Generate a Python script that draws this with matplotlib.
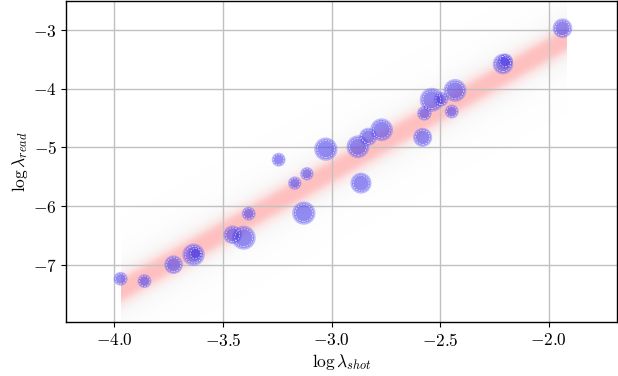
import numpy as np
import matplotlib
matplotlib.use('Agg')
import matplotlib.pyplot as plt

plt.rcParams['font.family'] = 'serif'
plt.rcParams['font.serif'] = ['cmr10']
plt.rcParams['mathtext.fontset'] = 'cm'
plt.rcParams['axes.formatter.use_mathtext'] = True
plt.rcParams['font.size'] = 12.5

# observed points (log shot noise, log read noise) and marker areas
log_shot = [-3.972, -3.862, -3.728, -3.636, -3.627, -3.456, -3.405, -3.382,
            -3.128, -3.170, -3.114, -3.244, -3.027, -2.879, -2.832, -2.770,
            -2.865, -2.581, -2.573, -2.539, -2.496, -2.432, -2.447, -2.211,
            -2.200, -1.937]
log_read = [-7.24, -7.28, -7.00, -6.83, -6.81, -6.49, -6.54, -6.13,
            -6.12, -5.61, -5.45, -5.21, -5.03, -4.99, -4.82, -4.70,
            -5.61, -4.83, -4.42, -4.19, -4.18, -4.03, -4.39, -3.58,
            -3.53, -2.97]
sizes = [100, 100, 180, 260, 100, 180, 300, 100,
         282, 93, 93, 100, 282, 270, 170, 270,
         230, 190, 110, 300, 110, 270, 100, 220,
         120, 200]

# fitted line and band
fit_x = [-3.97, -1.92]
slope = 2.08
intercept = -5.42 + 3 * 2.08
core_w = 0.30
fade_w = 0.55

fig = plt.figure(figsize=(6.18, 3.76), dpi=100)
ax = fig.add_axes([0.1076, 0.1423, 0.8908, 0.855])

# gradient band as an image
ylo, yhi = -8.2, -2.4
xs = np.linspace(fit_x[0], fit_x[1], 300)
ys = np.linspace(ylo, yhi, 500)
X, Y = np.meshgrid(xs, ys)
d = np.abs(Y - (slope * X + intercept))
r = np.exp(-(d / core_w) ** 3)
a = np.exp(-(d / fade_w) ** 2)
red = np.array([1.0, 0.75, 0.75])
grey = np.array([0.95, 0.95, 0.95])
img = np.zeros(X.shape + (4,))
for k in range(3):
    img[..., k] = r * red[k] + (1 - r) * grey[k]
img[..., 3] = np.clip(np.maximum(a * 0.75, r), 0, 1)
ax.imshow(img, extent=[fit_x[0], fit_x[1], ylo, yhi], origin='lower',
          aspect='auto', interpolation='bilinear', zorder=0)

sz = np.array(sizes)
ax.scatter(log_shot, log_read, s=sz, facecolor=(0.4, 0.4, 1.0, 0.42),
           edgecolor='none', zorder=2)
ax.scatter(log_shot, log_read, s=sz * 0.72, facecolor=(0.2, 0.1, 0.85, 0.3),
           edgecolor='none', zorder=3)
ax.scatter(log_shot, log_read, s=sz * 0.55, facecolor='none',
           edgecolor=(1, 1, 1, 0.7), linewidth=0.6, linestyle=(0, (2, 1.5)),
           zorder=4)

ax.set_xlim(-4.221, -1.686)
ax.set_ylim(-7.985, -2.506)
ax.set_xticks([-4.0, -3.5, -3.0, -2.5, -2.0])
ax.set_yticks([-7, -6, -5, -4, -3])
ax.set_axisbelow(True)
ax.grid(True, color='#c0c0c0', linewidth=1.0)
ax.set_xlabel(r'$\log\lambda_{shot}$', fontsize=12.5, labelpad=2)
ax.set_ylabel(r'$\log\lambda_{read}$', fontsize=12.5, labelpad=2)
for sp in ax.spines.values():
    sp.set_linewidth(1.0)

fig.savefig('out.png', dpi=100)
